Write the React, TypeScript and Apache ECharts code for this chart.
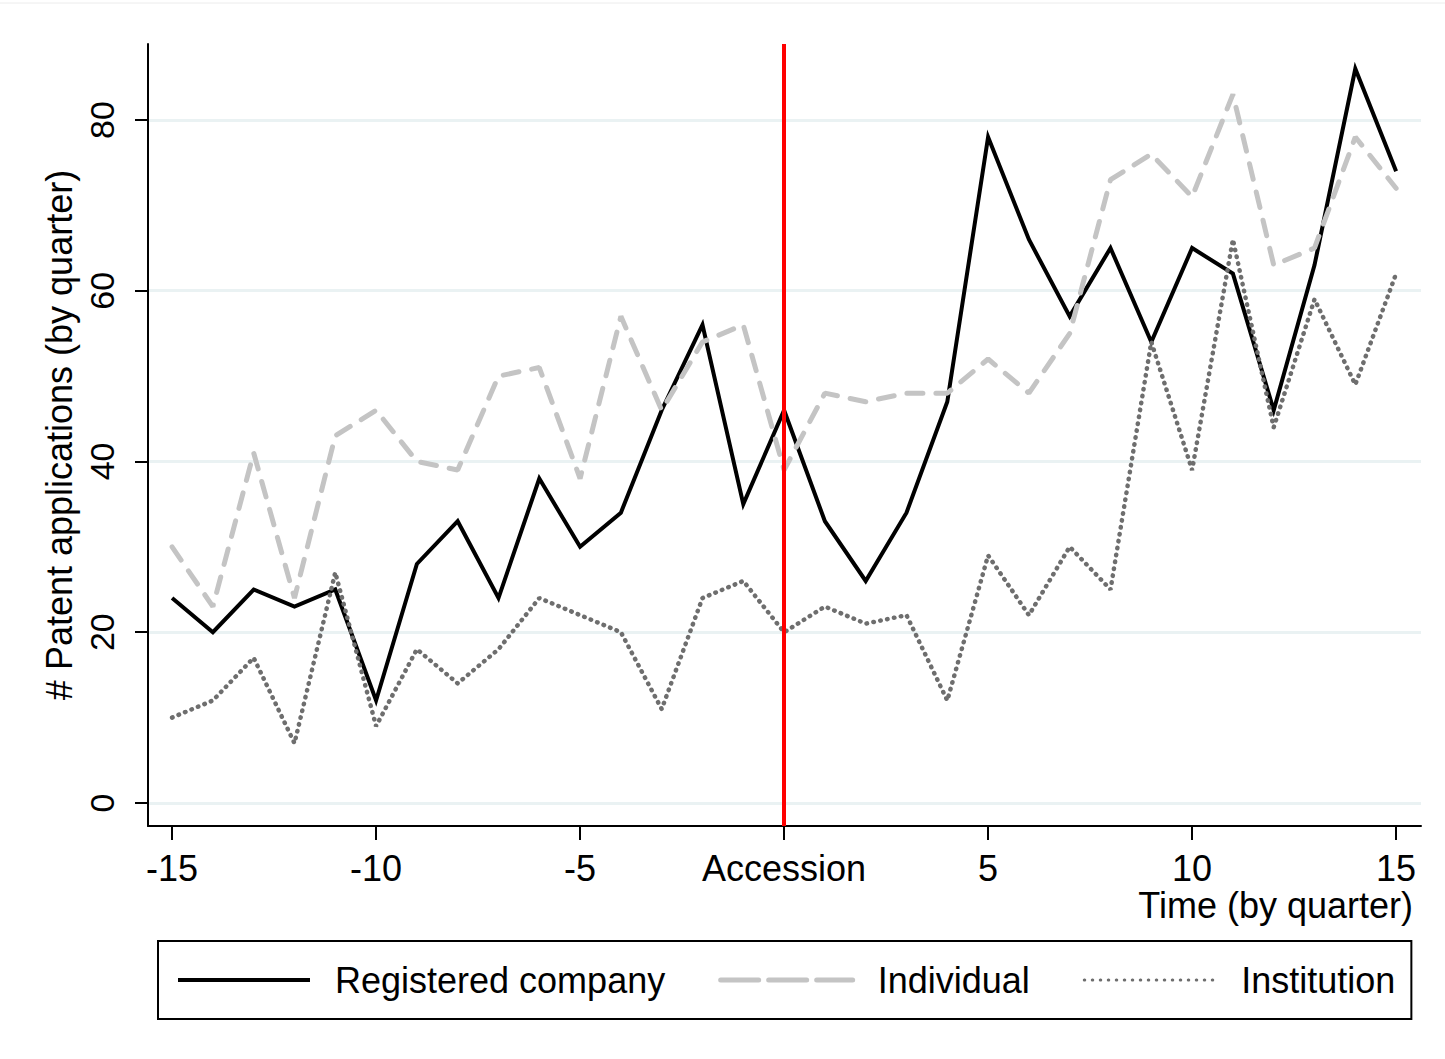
import React, { useEffect, useRef } from "react";
import * as echarts from "echarts";

const quarters = [-15, -14, -13, -12, -11, -10, -9, -8, -7, -6, -5, -4, -3, -2, -1, 0, 1, 2, 3, 4, 5, 6, 7, 8, 9, 10, 11, 12, 13, 14, 15];
const registeredCompany = [24, 20, 25, 23, 25, 12, 28, 33, 24, 38, 30, 34, 46, 56, 35, 46, 33, 26, 34, 47, 78, 66, 57, 65, 54, 65, 62, 46, 63, 86, 74];
const individual = [30, 23, 41, 24, 43, 46, 40, 39, 50, 51, 38, 57, 46, 54, 56, 39, 48, 47, 48, 48, 52, 48, 55, 73, 76, 71, 83, 63, 65, 78, 72];
const institution = [10, 12, 17, 7, 27, 9, 18, 14, 18, 24, 22, 20, 11, 24, 26, 20, 23, 21, 22, 12, 29, 22, 30, 25, 54, 39, 66, 44, 59, 49, 62];
const xTicks = [-15, -10, -5, 0, 5, 10, 15];
const yTicks = [0, 20, 40, 60, 80];
const accessionQuarter = 0;
const seriesNames = ["Registered company", "Individual", "Institution"];

const FONT = '"Liberation Sans", Arial, Helvetica, sans-serif';

export default function App() {
  const ref = useRef<HTMLDivElement>(null);
  useEffect(() => {
    if (!ref.current) return;
    const chart = echarts.init(ref.current, null, { renderer: "svg" });
    const pairs = (ys: number[]) => quarters.map((q, i) => [q, ys[i]]);
    chart.setOption({
      animation: false,
      backgroundColor: "#ffffff",
      textStyle: { fontFamily: FONT, color: "#000" },
      graphic: [
        {
          type: "line",
          shape: { x1: 0, y1: 3, x2: 1445, y2: 3 },
          style: { stroke: "#ececec", lineWidth: 1 },
          silent: true,
        },
      ],
      grid: { left: 148, right: 24, top: 44, bottom: 233, containLabel: false, outerBoundsMode: "none" },
      xAxis: {
        type: "value",
        min: -15.59,
        max: 15.61,
        name: "Time (by quarter)",
        nameLocation: "end",
        nameGap: -8,
        nameTextStyle: {
          fontFamily: FONT,
          fontSize: 36,
          color: "#000",
          align: "right",
          verticalAlign: "top",
          padding: [61, 0, 0, 0],
        },
        axisLine: { show: true, onZero: false, lineStyle: { color: "#000", width: 2 } },
        axisTick: { show: true, length: 14, lineStyle: { color: "#000", width: 2 }, customValues: xTicks },
        axisLabel: {
          customValues: xTicks,
          fontFamily: FONT,
          fontSize: 36,
          color: "#000",
          margin: 24,
          formatter: (v: number) => (v === accessionQuarter ? "Accession" : String(v)),
        },
        splitLine: { show: false },
      },
      yAxis: {
        type: "value",
        min: -2.7,
        max: 88.9,
        name: "# Patent applications (by quarter)",
        nameLocation: "middle",
        nameGap: 58,
        nameTextStyle: { fontFamily: FONT, fontSize: 36, color: "#000" },
        axisLine: { show: true, onZero: false, lineStyle: { color: "#000", width: 2 } },
        axisTick: { show: true, length: 13, lineStyle: { color: "#000", width: 2 }, customValues: yTicks },
        axisLabel: {
          customValues: yTicks,
          rotate: 90,
          fontFamily: FONT,
          fontSize: 34,
          color: "#000",
          margin: 29,
        },
        splitLine: { show: true, lineStyle: { color: "#eaf2f3", width: 3 } },
      },
      legend: {
        show: true,
        data: [
          { name: seriesNames[0], itemStyle: { opacity: 0 }, lineStyle: { width: 4, color: "#000000", type: "solid" } },
          { name: seriesNames[1], itemStyle: { opacity: 0 }, lineStyle: { width: 5, color: "#c4c4c4", type: [38, 10], cap: "round" } },
          { name: seriesNames[2], itemStyle: { opacity: 0 }, lineStyle: { width: 3, color: "#6e6e6e", type: [0.5, 7.5], cap: "round" } },
        ],
        left: 158,
        top: 941,
        orient: "horizontal",
        itemWidth: 132,
        itemHeight: 14,
        itemGap: 53,
        padding: [19, 16, 19, 18],
        borderColor: "#000",
        borderWidth: 2,
        backgroundColor: "#fff",
        textStyle: { fontFamily: FONT, fontSize: 36, color: "#000", padding: [0, 0, 0, 20], lineHeight: 40 },
        selectedMode: false,
      },
      series: [
        {
          name: seriesNames[0],
          type: "line",
          data: pairs(registeredCompany),
          symbol: "none",
          showSymbol: false,
          lineStyle: { color: "#000000", width: 4, join: "miter" },
          itemStyle: { color: "#000000" },
          z: 2,
        },
        {
          name: seriesNames[1],
          type: "line",
          data: pairs(individual),
          symbol: "none",
          showSymbol: false,
          lineStyle: { color: "#c4c4c4", width: 5, type: [16, 13], cap: "round" },
          itemStyle: { color: "#c4c4c4" },
          z: 2,
        },
        {
          name: seriesNames[2],
          type: "line",
          data: pairs(institution),
          symbol: "none",
          showSymbol: false,
          lineStyle: { color: "#6e6e6e", width: 4.5, type: [0.5, 6.5], cap: "round" },
          itemStyle: { color: "#6e6e6e" },
          z: 2,
        },
        {
          name: "Accession",
          type: "line",
          data: [],
          z: 5,
          markLine: {
            silent: true,
            symbol: "none",
            label: { show: false },
            lineStyle: { color: "#ff0000", width: 4, type: "solid" },
            data: [{ xAxis: accessionQuarter }],
          },
        },
      ],
    });
    return () => chart.dispose();
  }, []);
  return (
    <div
      ref={ref}
      style={{ position: "fixed", left: 0, top: 0, width: 1445, height: 1059, background: "#fff" }}
    />
  );
}
